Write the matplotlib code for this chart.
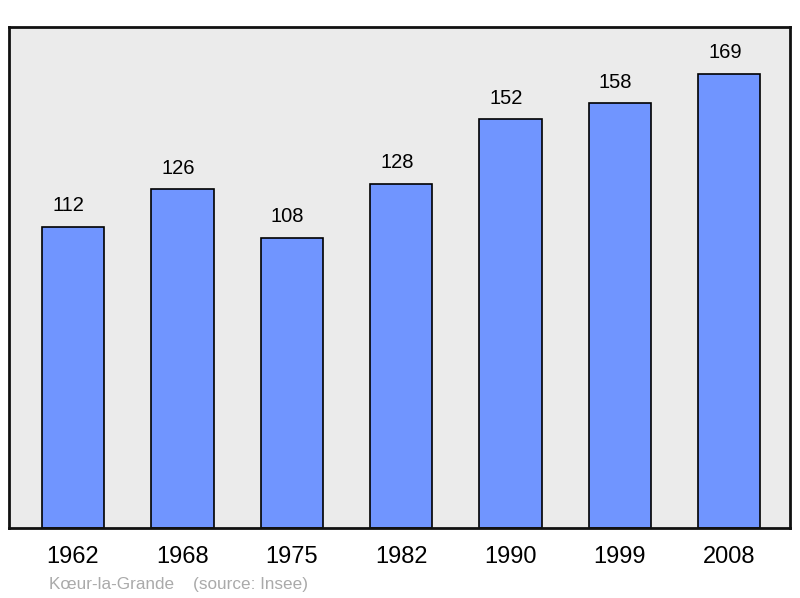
import matplotlib.pyplot as plt

years = ['1962', '1968', '1975', '1982', '1990', '1999', '2008']
population = [112, 126, 108, 128, 152, 158, 169]
caption = 'Kœur-la-Grande    (source: Insee)'

plt.rcParams['font.family'] = ['Liberation Sans', 'DejaVu Sans']

fig = plt.figure(figsize=(8, 5.98), dpi=100)
ax = fig.add_axes([9 / 800, 1 - 528 / 598, 781 / 800, 501 / 598])
ax.set_facecolor('#ebebeb')

x = range(len(years))
ax.bar(x, population, width=0.57, color='#7095ff', edgecolor='black',
       linewidth=1.2, zorder=2)
for i, v in zip(x, population):
    ax.annotate(str(v), (i, v), xytext=(-3, 8.5), textcoords='offset points',
                ha='center', va='bottom', fontsize=14.5)

ax.set_xlim(-0.585, 6.555)
ax.set_ylim(0, 186.4)
ax.set_xticks(list(x))
ax.set_xticklabels(years, fontsize=17)
ax.set_yticks([])
ax.tick_params(axis='x', length=0, pad=13)
for s in ax.spines.values():
    s.set_linewidth(2)
    s.set_color('#111111')

fig.text(49 / 800, 1 - 584 / 598, caption, color='#aaaaaa', fontsize=12.3,
         ha='left', va='center')

plt.savefig('out.png')
